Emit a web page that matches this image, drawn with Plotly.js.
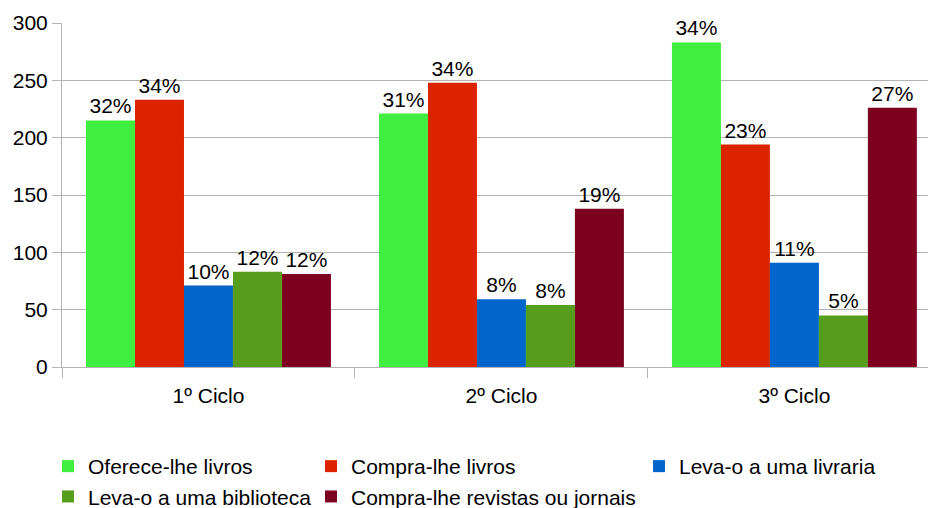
<!DOCTYPE html>
<html>
<head>
<meta charset="utf-8">
<script src="https://cdn.plot.ly/plotly-3.0.1.min.js"></script>
<style>
  html, body { margin: 0; padding: 0; background: #fff; }
  #chart { width: 928px; height: 508px; }
</style>
</head>
<body>
<div id="chart"></div>
<script>
// School cycles (x categories)
const ciclos = ["1º Ciclo", "2º Ciclo", "3º Ciclo"];

// Counts per answer, one value per cycle
const ofereceLivros   = [215, 221, 283];
const compraLivros    = [233, 248, 194];
const levaLivraria    = [71, 59, 91];
const levaBiblioteca  = [83, 54, 45];
const compraRevistas  = [81, 138, 226];

// Share of each answer within its cycle
const pctOferece    = ["32%", "31%", "34%"];
const pctCompra     = ["34%", "34%", "23%"];
const pctLivraria   = ["10%", "8%", "11%"];
const pctBiblioteca = ["12%", "8%", "5%"];
const pctRevistas   = ["12%", "19%", "27%"];

const FONT = "Liberation Sans, Arial, sans-serif";
const GRID = "#b3b3b3";

function barTrace(name, y, text, color, legend) {
  return {
    type: "bar",
    name: name,
    x: ciclos,
    y: y,
    text: text,
    textposition: "outside",
    textfont: { family: FONT, size: 21, color: "#000" },
    constraintext: "none",
    cliponaxis: false,
    marker: { color: color, line: { width: 0 } },
    hoverinfo: "skip",
    legend: legend
  };
}

const data = [
  barTrace("Oferece-lhe livros", ofereceLivros, pctOferece, "#3fee3f", "legend"),
  barTrace("Compra-lhe livros", compraLivros, pctCompra, "#dc2300", "legend2"),
  barTrace("Leva-o a uma livraria", levaLivraria, pctLivraria, "#0066cc", "legend3"),
  barTrace("Leva-o a uma biblioteca", levaBiblioteca, pctBiblioteca, "#579d1c", "legend"),
  barTrace("Compra-lhe revistas ou jornais", compraRevistas, pctRevistas, "#7e0021", "legend2")
];

// Three legend columns, each listing its entries top to bottom
function legendAt(px) {
  return {
    orientation: "v",
    xref: "container", yref: "container",
    x: px / 928, xanchor: "left",
    y: 1 - 446 / 508, yanchor: "top",
    font: { family: FONT, size: 21, color: "#000" },
    bgcolor: "rgba(0,0,0,0)",
    borderwidth: 0,
    itemwidth: 30,
    tracegroupgap: 0,
    traceorder: "normal"
  };
}

const layout = {
  width: 928,
  height: 508,
  margin: { l: 62, r: 0, t: 23, b: 141, autoexpand: false },
  paper_bgcolor: "#fff",
  plot_bgcolor: "#fff",
  barmode: "group",
  bargap: 0.164,
  bargroupgap: 0,
  font: { family: FONT, size: 21, color: "#000" },
  showlegend: true,
  legend: legendAt(48),
  legend2: legendAt(311),
  legend3: legendAt(639),
  xaxis: {
    type: "category",
    range: [-0.5, 2.456],
    tickson: "boundaries",
    ticks: "outside",
    ticklen: 10,
    tickcolor: GRID,
    tickwidth: 1,
    ticklabelstandoff: 10,
    showline: true,
    linecolor: GRID,
    linewidth: 1,
    showgrid: false,
    tickfont: { family: FONT, size: 21, color: "#000" },
    fixedrange: true
  },
  yaxis: {
    range: [0, 300],
    tickvals: [0, 50, 100, 150, 200, 250, 300],
    ticks: "outside",
    ticklen: 9,
    tickcolor: GRID,
    showline: true,
    linecolor: GRID,
    linewidth: 1,
    showgrid: true,
    gridcolor: GRID,
    gridwidth: 1,
    zeroline: false,
    tickfont: { family: FONT, size: 21, color: "#000" },
    fixedrange: true
  }
};

Plotly.newPlot("chart", data, layout, { displayModeBar: false, staticPlot: true });
</script>
</body>
</html>
